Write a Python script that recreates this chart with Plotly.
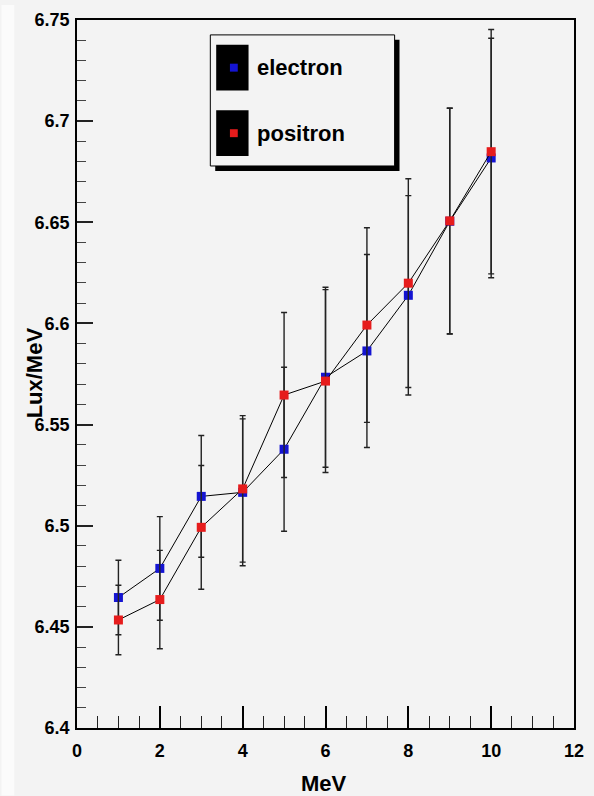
import plotly.graph_objects as go

# ---------------- data ----------------
energy = [1, 2, 3, 4, 5, 6, 7, 8, 9, 10]
electron = [6.4645, 6.4789, 6.5145, 6.5165, 6.5378, 6.5734, 6.5864, 6.6139, 6.6505, 6.6818]
electron_err = [0.0184, 0.0256, 0.0301, 0.0363, 0.0405, 0.0445, 0.0477, 0.0493, 0.0558, 0.0592]
positron = [6.4534, 6.4635, 6.4992, 6.5182, 6.5646, 6.5715, 6.5992, 6.6199, 6.6507, 6.6849]
positron_err = [0.0172, 0.0243, 0.0306, 0.0362, 0.0408, 0.0452, 0.0481, 0.0516, 0.0558, 0.0604]

x_tickvals = [0, 2, 4, 6, 8, 10, 12]
x_ticktext = ["0", "2", "4", "6", "8", "10", "12"]
x_minor = [0.5, 1, 1.5, 2.5, 3, 3.5, 4.5, 5, 5.5, 6.5, 7, 7.5, 8.5, 9, 9.5, 10.5, 11, 11.5]
y_tickvals = [6.4, 6.45, 6.5, 6.55, 6.6, 6.65, 6.7, 6.75]
y_ticktext = ["6.4", "6.45", "6.5", "6.55", "6.6", "6.65", "6.7", "6.75"]
y_minor = [round(6.4 + 0.01 * i, 2) for i in range(1, 35) if i % 5 != 0]

series_names = ["electron", "positron"]
series_colors = ["#1414d2", "#e61c1c"]

# ---------------- layout geometry (pixels) ----------------
W, H = 594, 796
L, R, T, B = 77, 10, 15, 68
PW, PH = W - L - R, H - T - B


def px2x(px):
    return (px - L) / PW


def py2y(py):
    return (H - B - py) / PH


FONT = "Liberation Sans, Arial, sans-serif"
BG = "#f3f3f3"

fig = go.Figure()

for name, ys, errs, col in [
    (series_names[0], electron, electron_err, series_colors[0]),
    (series_names[1], positron, positron_err, series_colors[1]),
]:
    fig.add_trace(
        go.Scatter(
            x=energy,
            y=ys,
            name=name,
            mode="lines+markers",
            line=dict(color="black", width=1),
            marker=dict(symbol="square", size=9, color=col, line=dict(width=0)),
            error_y=dict(type="data", array=errs, visible=True, color="#222222",
                         thickness=1.4, width=3),
            showlegend=False,
        )
    )

shapes = []
# light strip at the far left edge
shapes.append(dict(type="rect", xref="paper", yref="paper",
                   x0=px2x(0), x1=px2x(13), y0=py2y(H), y1=py2y(0),
                   fillcolor="#fbfbfb", line=dict(width=0), layer="below"))
# legend shadow and box
shapes.append(dict(type="rect", xref="paper", yref="paper",
                   x0=px2x(218), x1=px2x(406), y0=py2y(167), y1=py2y(35),
                   fillcolor="black", line=dict(width=0)))
shapes.append(dict(type="rect", xref="paper", yref="paper",
                   x0=px2x(213), x1=px2x(401), y0=py2y(162), y1=py2y(30),
                   fillcolor=BG, line=dict(color="black", width=1)))

annotations = []
legend_rows = [63, 129]
for name, col, cy in zip(series_names, series_colors, legend_rows):
    shapes.append(dict(type="rect", xref="paper", yref="paper",
                       x0=px2x(219), x1=px2x(252), y0=py2y(cy + 23), y1=py2y(cy - 23),
                       fillcolor="black", line=dict(width=0)))
    shapes.append(dict(type="rect", xref="paper", yref="paper",
                       x0=px2x(233), x1=px2x(241), y0=py2y(cy + 4), y1=py2y(cy - 4),
                       fillcolor=col, line=dict(width=0)))
    annotations.append(dict(text=name, xref="paper", yref="paper",
                            x=px2x(259), y=py2y(cy), xanchor="left", yanchor="middle",
                            showarrow=False,
                            font=dict(family=FONT, size=22, color="black", weight="bold")))

annotations.append(dict(text="MeV", xref="paper", yref="paper", x=px2x(329), y=py2y(784),
                        xanchor="center", yanchor="middle", showarrow=False,
                        font=dict(family=FONT, size=22, color="black", weight="bold")))
annotations.append(dict(text="Lux/MeV", xref="paper", yref="paper", x=px2x(34), y=py2y(370),
                        xanchor="center", yanchor="middle", textangle=-90, showarrow=False,
                        font=dict(family=FONT, size=22, color="black", weight="bold")))

fig.update_layout(
    width=W,
    height=H,
    margin=dict(l=L, r=R, t=T, b=B, pad=0),
    paper_bgcolor=BG,
    plot_bgcolor=BG,
    showlegend=False,
    shapes=shapes,
    annotations=annotations,
    xaxis=dict(
        range=[0, 12],
        tickmode="array", tickvals=x_tickvals, ticktext=x_ticktext,
        ticks="inside", ticklen=22, tickwidth=1.5, tickcolor="black",
        minor=dict(tickmode="array", tickvals=x_minor, ticks="inside", ticklen=12,
                   tickwidth=1.3, tickcolor="#222222", showgrid=False),
        showline=True, linecolor="black", linewidth=1.5, mirror=True,
        showgrid=False, zeroline=False,
        ticklabelstandoff=6,
        tickfont=dict(family=FONT, size=18, color="black", weight="bold"),
    ),
    yaxis=dict(
        range=[6.4, 6.75],
        tickmode="array", tickvals=y_tickvals, ticktext=y_ticktext,
        ticks="inside", ticklen=16, tickwidth=1.5, tickcolor="#222222",
        minor=dict(tickmode="array", tickvals=y_minor, ticks="inside", ticklen=9,
                   tickwidth=1.3, tickcolor="#444444", showgrid=False),
        showline=True, linecolor="black", linewidth=1.5, mirror=True,
        showgrid=False, zeroline=False,
        ticklabelstandoff=2,
        tickfont=dict(family=FONT, size=18, color="black", weight="bold"),
    ),
)

fig.write_html(
    "out.html",
    config={"displayModeBar": False},
    post_script="document.body.style.margin='0';document.body.style.padding='0';"
                "document.body.style.overflow='hidden';",
)
